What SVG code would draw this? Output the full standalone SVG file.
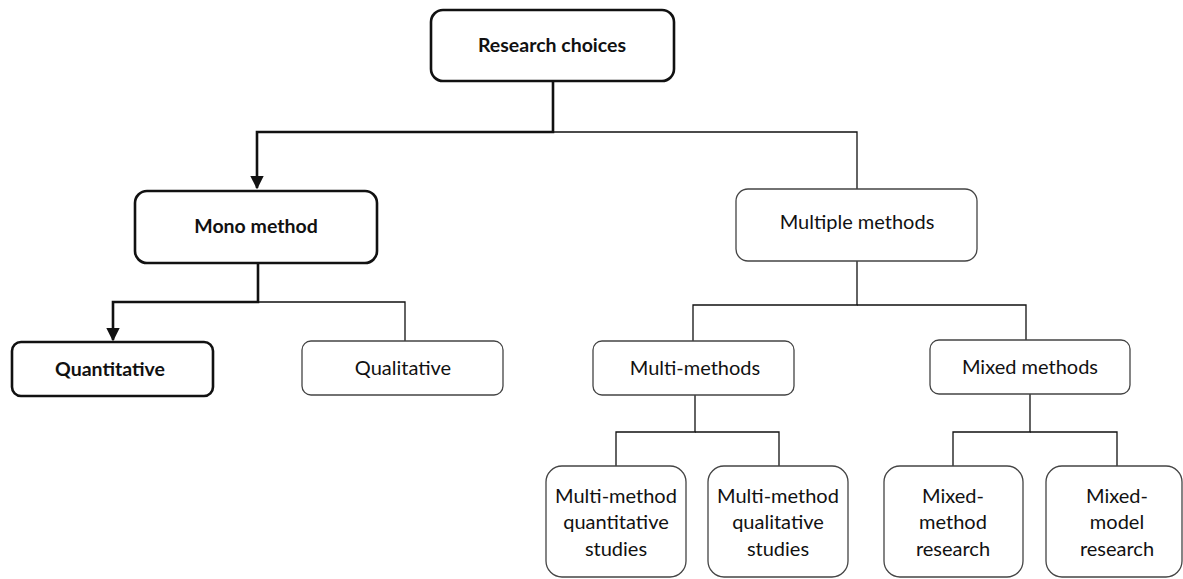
<svg xmlns="http://www.w3.org/2000/svg" width="1183" height="579" viewBox="0 0 1183 579">
  <defs>
    <style>
      .box { fill: #fff; stroke: #444; stroke-width: 1.3; }
      .box-b { fill: #fff; stroke: #111; stroke-width: 2.6; }
      .lbl { font-family: Lato, "Open Sans", "Liberation Sans", sans-serif; font-size: 20px; fill: #111; text-anchor: middle; }
      .lbl-b { font-weight: bold; font-size: 19.5px; }
      .wire { fill: none; stroke: #111; stroke-width: 1.3; }
      .wire-b { fill: none; stroke: #111; stroke-width: 2.6; }
    </style>
    <marker id="arrow" viewBox="0 0 10 10" refX="9" refY="5" markerWidth="5.2" markerHeight="5.2" markerUnits="strokeWidth" orient="auto">
      <path d="M0,0 L10,5 L0,10 z" fill="#111"/>
    </marker>
  </defs>

  <g id="connectors">
    <!-- Research choices to its two branches -->
    <path class="wire-b" d="M553,81 V132 H257 V188" marker-end="url(#arrow)"/>
    <path class="wire" d="M553,132 H857 V189"/>
    <!-- Mono method to its children -->
    <path class="wire-b" d="M258,263 V302 H113 V340" marker-end="url(#arrow)"/>
    <path class="wire" d="M258,302 H405 V341"/>
    <!-- Multiple methods to its children -->
    <path class="wire" d="M857,261 V305 H693 V341"/>
    <path class="wire" d="M857,305 H1026 V340"/>
    <!-- Multi-methods to its children -->
    <path class="wire" d="M695,395 V432 H616 V466"/>
    <path class="wire" d="M695,432 H779 V466"/>
    <!-- Mixed methods to its children -->
    <path class="wire" d="M1030,394 V432 H953 V466"/>
    <path class="wire" d="M1030,432 H1117 V466"/>
  </g>

  <g id="research-choices">
    <rect class="box-b" x="431" y="10" width="243" height="71" rx="12"/>
    <text class="lbl lbl-b" x="552" y="52">Research choices</text>
  </g>

  <g id="mono-method">
    <rect class="box-b" x="135" y="191" width="242" height="72" rx="12"/>
    <text class="lbl lbl-b" x="256" y="233">Mono method</text>
  </g>

  <g id="multiple-methods">
    <rect class="box" x="736" y="189" width="241" height="72" rx="12"/>
    <text class="lbl" x="857" y="229">Multiple methods</text>
  </g>

  <g id="quantitative">
    <rect class="box-b" x="12" y="342" width="201" height="54" rx="9"/>
    <text class="lbl lbl-b" x="110" y="376">Quantitative</text>
  </g>

  <g id="qualitative">
    <rect class="box" x="302" y="341" width="201" height="54" rx="9"/>
    <text class="lbl" x="403" y="375">Qualitative</text>
  </g>

  <g id="multi-methods">
    <rect class="box" x="593" y="341" width="201" height="54" rx="9"/>
    <text class="lbl" x="695" y="375">Multi-methods</text>
  </g>

  <g id="mixed-methods">
    <rect class="box" x="930" y="340" width="200" height="54" rx="9"/>
    <text class="lbl" x="1030" y="374">Mixed methods</text>
  </g>

  <g id="multi-method-quantitative">
    <rect class="box" x="546" y="466" width="140" height="111" rx="16"/>
    <text class="lbl" x="616" y="503">Multi-method</text>
    <text class="lbl" x="616" y="529">quantitative</text>
    <text class="lbl" x="616" y="556">studies</text>
  </g>

  <g id="multi-method-qualitative">
    <rect class="box" x="708" y="466" width="140" height="111" rx="16"/>
    <text class="lbl" x="778" y="503">Multi-method</text>
    <text class="lbl" x="778" y="529">qualitative</text>
    <text class="lbl" x="778" y="556">studies</text>
  </g>

  <g id="mixed-method-research">
    <rect class="box" x="884" y="466" width="139" height="111" rx="16"/>
    <text class="lbl" x="953" y="503">Mixed-</text>
    <text class="lbl" x="953" y="529">method</text>
    <text class="lbl" x="953" y="556">research</text>
  </g>

  <g id="mixed-model-research">
    <rect class="box" x="1046" y="466" width="136" height="111" rx="16"/>
    <text class="lbl" x="1117" y="503">Mixed-</text>
    <text class="lbl" x="1117" y="529">model</text>
    <text class="lbl" x="1117" y="556">research</text>
  </g>
</svg>
